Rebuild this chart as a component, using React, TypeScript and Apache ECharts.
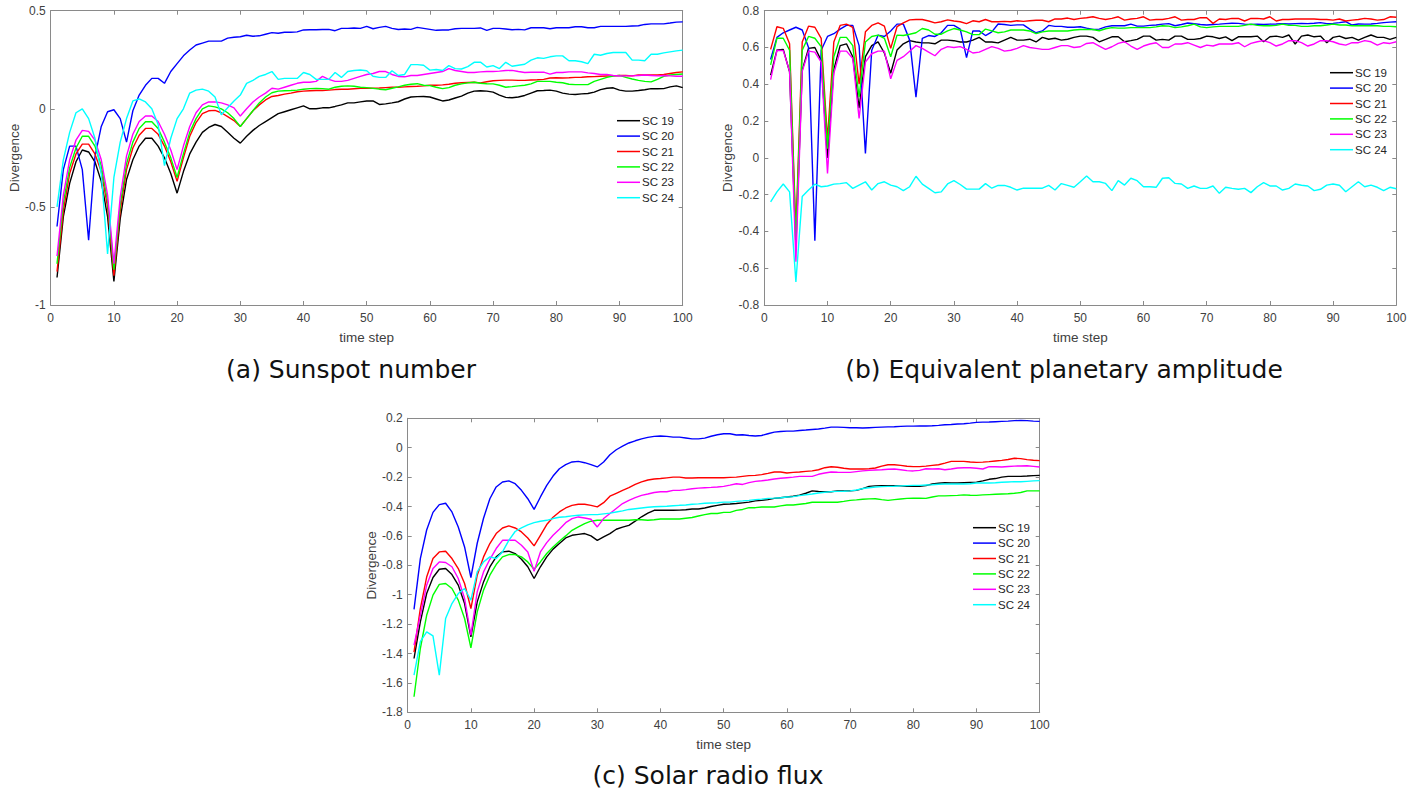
import React, { useEffect, useRef } from "react";
import * as echarts from "echarts";

const NAMES = ["SC 19", "SC 20", "SC 21", "SC 22", "SC 23", "SC 24"];
const COLORS = ["#000000", "#0000ff", "#ff0000", "#00ff00", "#ff00ff", "#00ffff"];
const PANEL_TITLES = ["(a) Sunspot number", "(b) Equivalent planetary amplitude", "(c) Solar radio flux"];

// (a) Sunspot number, time steps 1..100
const SUN_SC19 = [
  -0.86, -0.55, -0.38, -0.27, -0.21, -0.22, -0.27, -0.37, -0.55, -0.88,
  -0.56, -0.36, -0.26, -0.19, -0.15, -0.15, -0.19, -0.25, -0.33, -0.43,
  -0.32, -0.23, -0.17, -0.12, -0.095, -0.08, -0.09, -0.12, -0.15, -0.175,
  -0.14, -0.11, -0.085, -0.065, -0.045, -0.025, -0.015, -0.005, 0.005, 0.015,
  0.0, 0.0, 0.005, 0.005, 0.012, 0.02, 0.03, 0.03, 0.035, 0.04,
  0.04, 0.022, 0.025, 0.03, 0.036, 0.05, 0.06, 0.062, 0.063, 0.06,
  0.05, 0.04, 0.045, 0.055, 0.065, 0.08, 0.09, 0.092, 0.09, 0.085,
  0.07, 0.058, 0.056, 0.06, 0.068, 0.08, 0.092, 0.093, 0.095, 0.09,
  0.08, 0.075, 0.073, 0.076, 0.078, 0.085, 0.098, 0.105, 0.107, 0.095,
  0.09, 0.09, 0.093, 0.097, 0.103, 0.102, 0.103, 0.112, 0.117, 0.108,
];
const SUN_SC20 = [
  -0.6, -0.31, -0.19, -0.19, -0.31, -0.67, -0.245, -0.09, -0.015, -0.005,
  -0.05, -0.17, -0.01, 0.07, 0.12, 0.155, 0.155, 0.13, 0.19, 0.23,
  0.27, 0.3, 0.325, 0.335, 0.345, 0.345, 0.345, 0.36, 0.365, 0.367,
  0.375, 0.37, 0.372, 0.38, 0.388, 0.385, 0.39, 0.39, 0.392, 0.402,
  0.403, 0.403, 0.404, 0.405, 0.398, 0.41, 0.41, 0.412, 0.41, 0.42,
  0.408, 0.415, 0.42, 0.41, 0.404, 0.407, 0.405, 0.415, 0.41, 0.405,
  0.4, 0.402, 0.402, 0.408, 0.41, 0.41, 0.41, 0.412, 0.4, 0.41,
  0.41, 0.407, 0.403, 0.405, 0.402, 0.413, 0.413, 0.413, 0.408, 0.413,
  0.413, 0.413, 0.418, 0.418, 0.413, 0.413, 0.42, 0.42, 0.42, 0.42,
  0.42, 0.422, 0.423, 0.43, 0.433, 0.433, 0.433, 0.437, 0.442, 0.443,
];
const SUN_SC21 = [
  -0.83, -0.52, -0.33, -0.23, -0.18, -0.18, -0.23, -0.32, -0.5, -0.85,
  -0.52, -0.31, -0.2, -0.135, -0.1, -0.1, -0.13, -0.19, -0.27, -0.37,
  -0.25, -0.14, -0.07, -0.025, -0.01, -0.008, -0.02, -0.04, -0.06, -0.09,
  -0.05, -0.01, 0.02, 0.045, 0.063, 0.068, 0.075, 0.08, 0.087, 0.09,
  0.092, 0.093, 0.093, 0.095, 0.098, 0.1, 0.1, 0.102, 0.104, 0.105,
  0.105, 0.106, 0.108, 0.11, 0.11, 0.112, 0.114, 0.115, 0.117, 0.12,
  0.12, 0.122, 0.125, 0.13, 0.133, 0.134, 0.135, 0.132, 0.138, 0.143,
  0.145, 0.146, 0.146, 0.145, 0.145, 0.147, 0.148, 0.15, 0.157, 0.158,
  0.157, 0.158, 0.16, 0.161, 0.163, 0.164, 0.166, 0.167, 0.168, 0.17,
  0.17, 0.168, 0.173, 0.172, 0.172, 0.172, 0.175, 0.18, 0.185, 0.188,
];
const SUN_SC22 = [
  -0.79, -0.48, -0.3, -0.2, -0.14, -0.14, -0.19, -0.29, -0.47, -0.82,
  -0.49, -0.28, -0.17, -0.1, -0.066, -0.066, -0.1, -0.17, -0.25, -0.35,
  -0.23, -0.12, -0.05, 0.0, 0.015, 0.01, 0.0, -0.02, -0.05, -0.09,
  -0.05, -0.01, 0.03, 0.06, 0.082, 0.09, 0.092, 0.093, 0.095, 0.1,
  0.103, 0.104, 0.103, 0.1, 0.11, 0.115, 0.117, 0.115, 0.11, 0.108,
  0.104, 0.1, 0.097, 0.105, 0.112, 0.12, 0.125, 0.128, 0.12, 0.118,
  0.11, 0.103, 0.108, 0.12, 0.127, 0.132, 0.135, 0.13, 0.128, 0.127,
  0.12, 0.11, 0.113, 0.117, 0.12, 0.127, 0.14, 0.14, 0.14, 0.135,
  0.133, 0.125, 0.123, 0.123, 0.123, 0.14, 0.15, 0.16, 0.167, 0.17,
  0.16, 0.152, 0.145, 0.14, 0.137, 0.15, 0.165, 0.172, 0.175, 0.177,
];
const SUN_SC23 = [
  -0.75, -0.44, -0.26, -0.16, -0.11, -0.115, -0.16, -0.26, -0.44, -0.79,
  -0.45, -0.24, -0.13, -0.065, -0.037, -0.037, -0.065, -0.13, -0.21, -0.31,
  -0.19, -0.09, -0.02, 0.02, 0.035, 0.035, 0.03, 0.02, 0.005, -0.037,
  0.0, 0.035, 0.06, 0.08, 0.105, 0.1, 0.11, 0.12, 0.13, 0.135,
  0.135, 0.14, 0.165, 0.15, 0.14, 0.14, 0.145, 0.155, 0.165, 0.175,
  0.18, 0.19, 0.19, 0.175, 0.165, 0.163, 0.17, 0.17, 0.175, 0.18,
  0.185, 0.19, 0.205, 0.195, 0.19, 0.185, 0.185, 0.188, 0.19, 0.19,
  0.192, 0.195, 0.196, 0.19, 0.185, 0.186, 0.186, 0.187, 0.177, 0.185,
  0.185, 0.188, 0.188, 0.188, 0.183, 0.18, 0.175, 0.175, 0.17, 0.167,
  0.168, 0.168, 0.17, 0.172, 0.17, 0.168, 0.17, 0.168, 0.166, 0.166,
];
const SUN_SC24 = [
  -0.5, -0.26, -0.12, -0.02, 0.0, -0.05, -0.15, -0.33, -0.74, -0.35,
  -0.17, -0.05, 0.04, 0.05, 0.035, 0.0, -0.08, -0.29, -0.15, -0.05,
  0.0, 0.08, 0.095, 0.1, 0.09, 0.06, -0.03, 0.005, 0.04, 0.07,
  0.13, 0.145, 0.165, 0.175, 0.19, 0.15, 0.155, 0.155, 0.155, 0.185,
  0.175, 0.15, 0.15, 0.15, 0.185, 0.16, 0.19, 0.195, 0.198, 0.194,
  0.166, 0.16, 0.16, 0.194, 0.17, 0.175, 0.225, 0.225, 0.222, 0.197,
  0.2, 0.195, 0.22, 0.205, 0.203, 0.215, 0.237, 0.238, 0.213, 0.22,
  0.205, 0.237, 0.217, 0.222, 0.227, 0.248, 0.26, 0.257, 0.265, 0.27,
  0.27, 0.245, 0.245, 0.24, 0.23, 0.278, 0.273, 0.282, 0.287, 0.287,
  0.287, 0.248, 0.248, 0.245, 0.278, 0.278, 0.285, 0.29, 0.295, 0.299,
];

// (b) Equivalent planetary amplitude
const AP_SC19 = [
  0.45, 0.586, 0.59, 0.468, -0.48, 0.477, 0.595, 0.6, 0.53, 0.0,
  0.48, 0.61, 0.62, 0.55, 0.27, 0.55, 0.61, 0.63, 0.57, 0.46,
  0.586, 0.62, 0.637, 0.63, 0.625, 0.625, 0.62, 0.64, 0.64, 0.637,
  0.63, 0.63, 0.64, 0.655, 0.63, 0.63, 0.625, 0.64, 0.655, 0.64,
  0.64, 0.645, 0.63, 0.655, 0.645, 0.65, 0.64, 0.645, 0.655, 0.662,
  0.662, 0.655, 0.631, 0.644, 0.658, 0.658, 0.631, 0.637, 0.644, 0.662,
  0.662, 0.64, 0.644, 0.64, 0.662, 0.662, 0.644, 0.644, 0.649, 0.662,
  0.658, 0.649, 0.658, 0.637, 0.658, 0.658, 0.658, 0.662, 0.631, 0.658,
  0.662, 0.655, 0.668, 0.619, 0.662, 0.668, 0.658, 0.662, 0.626, 0.655,
  0.662, 0.649, 0.655, 0.64, 0.655, 0.668, 0.655, 0.655, 0.644, 0.655,
];
const AP_SC20 = [
  0.535, 0.655, 0.68, 0.695, 0.71, 0.695, 0.6, -0.45, 0.585, 0.66,
  0.675, 0.7, 0.72, 0.72, 0.61, 0.024, 0.585, 0.667, 0.66, 0.69,
  0.727, 0.727, 0.64, 0.33, 0.65, 0.665, 0.66, 0.68, 0.72, 0.72,
  0.7, 0.545, 0.69, 0.69, 0.665, 0.685, 0.728, 0.725, 0.72, 0.723,
  0.723, 0.7, 0.68, 0.69, 0.72, 0.715, 0.715, 0.71, 0.71, 0.713,
  0.705, 0.698, 0.7, 0.712, 0.718, 0.718, 0.718, 0.727, 0.716, 0.716,
  0.72, 0.722, 0.727, 0.73, 0.718, 0.725, 0.733, 0.73, 0.725, 0.722,
  0.725, 0.727, 0.73, 0.732, 0.731, 0.727, 0.725, 0.727, 0.725, 0.727,
  0.728, 0.73, 0.728, 0.73, 0.731, 0.73, 0.732, 0.735, 0.73, 0.731,
  0.735, 0.74, 0.722, 0.728, 0.727, 0.728, 0.731, 0.735, 0.738, 0.74,
];
const AP_SC21 = [
  0.59, 0.713, 0.704, 0.62, -0.4, 0.63, 0.716, 0.71, 0.65, 0.1,
  0.63, 0.72, 0.727, 0.71, 0.4, 0.685, 0.72, 0.734, 0.716, 0.595,
  0.713, 0.734, 0.75, 0.752, 0.752, 0.744, 0.734, 0.74, 0.75, 0.744,
  0.74, 0.73, 0.745, 0.74, 0.752, 0.74, 0.74, 0.742, 0.74, 0.745,
  0.742, 0.745, 0.748, 0.748, 0.74, 0.755, 0.755, 0.76, 0.752, 0.758,
  0.762, 0.767, 0.758, 0.752, 0.758, 0.767, 0.749, 0.755, 0.758, 0.767,
  0.749, 0.752, 0.752, 0.758, 0.767, 0.749, 0.752, 0.752, 0.762, 0.762,
  0.731, 0.755, 0.752, 0.758, 0.758, 0.744, 0.758, 0.758, 0.755, 0.767,
  0.744, 0.752, 0.752, 0.755, 0.755, 0.755, 0.755, 0.752, 0.752, 0.749,
  0.755, 0.744, 0.749, 0.752, 0.758, 0.755, 0.749, 0.752, 0.767, 0.764,
];
const AP_SC22 = [
  0.505, 0.65, 0.65, 0.585, -0.44, 0.585, 0.66, 0.65, 0.605, 0.05,
  0.55, 0.655, 0.655, 0.61, 0.33, 0.63, 0.66, 0.667, 0.65, 0.55,
  0.667, 0.665, 0.672, 0.68, 0.703, 0.695, 0.672, 0.672, 0.69, 0.703,
  0.695, 0.685, 0.67, 0.67, 0.7, 0.69, 0.68, 0.685, 0.695, 0.695,
  0.695, 0.69, 0.675, 0.685, 0.69, 0.69, 0.69, 0.69, 0.695, 0.698,
  0.698, 0.698, 0.691, 0.702, 0.708, 0.705, 0.705, 0.708, 0.708, 0.708,
  0.708, 0.712, 0.718, 0.716, 0.708, 0.712, 0.718, 0.727, 0.712, 0.708,
  0.712, 0.715, 0.715, 0.715, 0.715, 0.72, 0.727, 0.72, 0.718, 0.718,
  0.72, 0.727, 0.72, 0.72, 0.715, 0.715, 0.718, 0.718, 0.722, 0.727,
  0.722, 0.722, 0.718, 0.718, 0.718, 0.718, 0.718, 0.715, 0.715, 0.713,
];
const AP_SC23 = [
  0.425, 0.585, 0.583, 0.47, -0.565, 0.47, 0.58, 0.575, 0.52, -0.085,
  0.46, 0.58, 0.58, 0.54, 0.215, 0.52, 0.566, 0.58, 0.58, 0.43,
  0.53, 0.55, 0.58, 0.61, 0.595, 0.575, 0.555, 0.59, 0.605, 0.6,
  0.605, 0.59, 0.57, 0.575, 0.59, 0.605, 0.595, 0.58, 0.585, 0.595,
  0.61, 0.6, 0.595, 0.59, 0.59, 0.6, 0.61, 0.61, 0.6, 0.604,
  0.622, 0.626, 0.608, 0.59, 0.604, 0.622, 0.631, 0.608, 0.59, 0.608,
  0.619, 0.626, 0.6, 0.6, 0.619, 0.619, 0.626, 0.613, 0.6, 0.613,
  0.608, 0.619, 0.619, 0.619, 0.626, 0.604, 0.622, 0.631, 0.637, 0.626,
  0.608, 0.619, 0.637, 0.637, 0.626, 0.608, 0.619, 0.637, 0.637, 0.631,
  0.619, 0.613, 0.626, 0.626, 0.637, 0.631, 0.613, 0.626, 0.622, 0.631,
];
const AP_SC24 = [
  -0.24, -0.185, -0.142, -0.185, -0.675, -0.21, -0.175, -0.143, -0.157, -0.153,
  -0.143, -0.14, -0.135, -0.166, -0.148, -0.13, -0.175, -0.14, -0.13, -0.148,
  -0.157, -0.178, -0.157, -0.1, -0.143, -0.166, -0.19, -0.185, -0.142, -0.124,
  -0.145, -0.17, -0.17, -0.17, -0.14, -0.165, -0.15, -0.15, -0.16, -0.175,
  -0.165, -0.165, -0.165, -0.165, -0.15, -0.175, -0.14, -0.15, -0.16, -0.13,
  -0.099, -0.13, -0.13, -0.139, -0.178, -0.124, -0.148, -0.111, -0.124, -0.157,
  -0.157, -0.16, -0.111, -0.108, -0.139, -0.142, -0.166, -0.153, -0.166, -0.166,
  -0.153, -0.193, -0.16, -0.166, -0.171, -0.166, -0.189, -0.157, -0.135, -0.153,
  -0.153, -0.175, -0.166, -0.142, -0.149, -0.153, -0.178, -0.171, -0.148, -0.142,
  -0.149, -0.184, -0.157, -0.13, -0.157, -0.148, -0.16, -0.178, -0.16, -0.168,
];

// (c) Solar radio flux
const F107_SC19 = [
  -1.434, -1.185, -0.992, -0.883, -0.827, -0.822, -0.863, -0.935, -1.06, -1.287,
  -1.049, -0.913, -0.811, -0.743, -0.709, -0.704, -0.72, -0.759, -0.81, -0.89,
  -0.81, -0.743, -0.69, -0.652, -0.614, -0.596, -0.59, -0.584, -0.6, -0.63,
  -0.607, -0.584, -0.555, -0.54, -0.528, -0.5, -0.47, -0.445, -0.426, -0.426,
  -0.426, -0.426, -0.425, -0.422, -0.417, -0.417, -0.41, -0.4, -0.392, -0.385,
  -0.383, -0.38, -0.375, -0.37, -0.362, -0.358, -0.353, -0.345, -0.34, -0.335,
  -0.33, -0.323, -0.31, -0.294, -0.298, -0.3, -0.3, -0.294, -0.294, -0.294,
  -0.29, -0.278, -0.263, -0.26, -0.258, -0.258, -0.258, -0.26, -0.263, -0.263,
  -0.263, -0.258, -0.247, -0.242, -0.238, -0.24, -0.24, -0.238, -0.236, -0.234,
  -0.226, -0.215, -0.21, -0.2, -0.195, -0.195, -0.195, -0.193, -0.19, -0.188,
];
const F107_SC20 = [
  -1.1, -0.755, -0.56, -0.44, -0.387, -0.378, -0.437, -0.54, -0.675, -0.883,
  -0.65, -0.48, -0.347, -0.267, -0.233, -0.226, -0.245, -0.29, -0.347, -0.42,
  -0.335, -0.256, -0.193, -0.143, -0.115, -0.097, -0.093, -0.102, -0.115, -0.131,
  -0.097, -0.048, -0.014, 0.01, 0.032, 0.047, 0.06, 0.07, 0.077, 0.08,
  0.077, 0.072, 0.072, 0.066, 0.06, 0.06, 0.065, 0.078, 0.088, 0.095,
  0.095, 0.086, 0.088, 0.083, 0.08, 0.083, 0.095, 0.106, 0.11, 0.113,
  0.113, 0.117, 0.12, 0.124, 0.127, 0.133, 0.14, 0.14, 0.138, 0.136,
  0.136, 0.134, 0.136, 0.138, 0.14, 0.142, 0.143, 0.145, 0.147, 0.147,
  0.148, 0.148, 0.149, 0.152, 0.156, 0.158, 0.161, 0.163, 0.167, 0.172,
  0.174, 0.175, 0.177, 0.179, 0.181, 0.184, 0.186, 0.184, 0.181, 0.179,
];
const F107_SC21 = [
  -1.39, -1.094, -0.88, -0.754, -0.709, -0.704, -0.754, -0.822, -0.924, -1.094,
  -0.867, -0.743, -0.652, -0.584, -0.546, -0.532, -0.546, -0.573, -0.614, -0.668,
  -0.596, -0.523, -0.473, -0.437, -0.41, -0.392, -0.385, -0.385, -0.392, -0.403,
  -0.374, -0.33, -0.31, -0.29, -0.272, -0.25, -0.233, -0.22, -0.213, -0.21,
  -0.205, -0.2, -0.2, -0.206, -0.206, -0.204, -0.204, -0.204, -0.204, -0.204,
  -0.202, -0.2, -0.195, -0.19, -0.188, -0.183, -0.175, -0.165, -0.165, -0.172,
  -0.168, -0.165, -0.161, -0.158, -0.15, -0.136, -0.13, -0.133, -0.14, -0.145,
  -0.145, -0.145, -0.143, -0.138, -0.125, -0.116, -0.116, -0.12, -0.126, -0.129,
  -0.129, -0.125, -0.12, -0.116, -0.105, -0.093, -0.093, -0.093, -0.097, -0.1,
  -0.098, -0.095, -0.09, -0.086, -0.08, -0.072, -0.074, -0.081, -0.085, -0.088,
];
const F107_SC22 = [
  -1.694, -1.366, -1.14, -1.003, -0.93, -0.924, -0.958, -1.037, -1.162, -1.361,
  -1.117, -0.969, -0.867, -0.795, -0.743, -0.727, -0.727, -0.743, -0.777, -0.827,
  -0.777, -0.72, -0.675, -0.636, -0.6, -0.562, -0.539, -0.516, -0.5, -0.494,
  -0.494, -0.494, -0.494, -0.494, -0.494, -0.49, -0.49, -0.494, -0.49, -0.485,
  -0.485, -0.485, -0.485, -0.48, -0.475, -0.465, -0.455, -0.448, -0.448, -0.44,
  -0.44, -0.426, -0.42, -0.408, -0.408, -0.403, -0.403, -0.403, -0.396, -0.39,
  -0.39, -0.385, -0.38, -0.371, -0.371, -0.371, -0.371, -0.371, -0.365, -0.358,
  -0.355, -0.351, -0.348, -0.347, -0.353, -0.358, -0.353, -0.349, -0.345, -0.344,
  -0.344, -0.345, -0.335, -0.328, -0.328, -0.326, -0.324, -0.321, -0.323, -0.324,
  -0.321, -0.319, -0.317, -0.315, -0.313, -0.31, -0.305, -0.294, -0.294, -0.294,
];
const F107_SC23 = [
  -1.343, -1.14, -0.935, -0.822, -0.777, -0.781, -0.81, -0.89, -1.026, -1.275,
  -0.98, -0.845, -0.759, -0.686, -0.63, -0.63, -0.63, -0.664, -0.709, -0.84,
  -0.709, -0.646, -0.596, -0.555, -0.51, -0.482, -0.471, -0.478, -0.487, -0.539,
  -0.482, -0.448, -0.414, -0.38, -0.358, -0.34, -0.324, -0.315, -0.305, -0.3,
  -0.3, -0.29, -0.29, -0.285, -0.279, -0.275, -0.272, -0.27, -0.267, -0.263,
  -0.255, -0.245, -0.25, -0.238, -0.229, -0.225, -0.22, -0.213, -0.208, -0.204,
  -0.2, -0.195, -0.195, -0.195, -0.181, -0.172, -0.165, -0.167, -0.168, -0.168,
  -0.163, -0.158, -0.154, -0.152, -0.15, -0.147, -0.145, -0.15, -0.156, -0.158,
  -0.154, -0.143, -0.145, -0.143, -0.15, -0.145, -0.138, -0.136, -0.136, -0.14,
  -0.145, -0.129, -0.13, -0.131, -0.128, -0.125, -0.124, -0.123, -0.127, -0.131,
];
const F107_SC24 = [
  -1.547, -1.32, -1.253, -1.28, -1.547, -1.162, -1.06, -0.992, -0.958, -1.037,
  -0.845, -0.777, -0.743, -0.754, -0.709, -0.63, -0.57, -0.545, -0.525, -0.51,
  -0.5, -0.494, -0.482, -0.473, -0.47, -0.464, -0.46, -0.457, -0.455, -0.455,
  -0.45, -0.445, -0.437, -0.43, -0.42, -0.415, -0.41, -0.405, -0.402, -0.4,
  -0.398, -0.395, -0.392, -0.39, -0.385, -0.382, -0.378, -0.376, -0.374, -0.37,
  -0.37, -0.365, -0.362, -0.358, -0.353, -0.35, -0.345, -0.343, -0.34, -0.335,
  -0.333, -0.326, -0.32, -0.315, -0.308, -0.303, -0.299, -0.297, -0.296, -0.294,
  -0.288, -0.278, -0.272, -0.267, -0.265, -0.263, -0.262, -0.26, -0.258, -0.256,
  -0.256, -0.254, -0.252, -0.249, -0.247, -0.247, -0.247, -0.247, -0.245, -0.24,
  -0.24, -0.24, -0.238, -0.235, -0.233, -0.231, -0.232, -0.229, -0.226, -0.224,
];

const PANEL_DATA = [
  [SUN_SC19, SUN_SC20, SUN_SC21, SUN_SC22, SUN_SC23, SUN_SC24],
  [AP_SC19, AP_SC20, AP_SC21, AP_SC22, AP_SC23, AP_SC24],
  [F107_SC19, F107_SC20, F107_SC21, F107_SC22, F107_SC23, F107_SC24],
];
const Y_RANGES = [
  { min: -1, max: 0.5, interval: 0.5 },
  { min: -0.8, max: 0.8, interval: 0.2 },
  { min: -1.8, max: 0.2, interval: 0.2 },
];
const X_RANGE = { min: 0, max: 100, interval: 10 };

const GRIDS = [
  { left: 50.7, top: 10.7, width: 632, height: 294.3 },
  { left: 764.3, top: 10.7, width: 632, height: 294.3 },
  { left: 407.7, top: 418.3, width: 632, height: 294 },
];
const LEGEND_POS = [
  { left: 617, top: 113 },
  { left: 1330, top: 65 },
  { left: 973, top: 520 },
];
const TITLE_POS = [
  { x: 351, y: 369 },
  { x: 1064, y: 369 },
  { x: 708, y: 775 },
];

const AXIS_COLOR = "#8a8a8a";
const LABEL_COLOR = "#404040";
const FONT = "'Liberation Sans', Arial, sans-serif";

export default function App() {
  const ref = useRef<HTMLDivElement>(null);
  useEffect(() => {
    if (!ref.current) return;
    const chart = echarts.init(ref.current, undefined, { renderer: "svg" });

    const lineAxis = {
      axisLine: { show: true, onZero: false, lineStyle: { color: AXIS_COLOR, width: 1 } },
      axisTick: { show: true, inside: true, length: 4, lineStyle: { color: AXIS_COLOR, width: 1 } },
      splitLine: { show: false },
    };

    const xAxis: any[] = [];
    const yAxis: any[] = [];
    const series: any[] = [];
    GRIDS.forEach((_, g) => {
      xAxis.push({
        type: "value", gridIndex: g, position: "bottom", ...X_RANGE, ...lineAxis,
        name: "time step", nameLocation: "middle", nameGap: 25,
        nameTextStyle: { color: LABEL_COLOR, fontSize: 13.5, fontFamily: FONT },
        axisLabel: { color: LABEL_COLOR, fontSize: 12, fontFamily: FONT, margin: 7 },
      });
      xAxis.push({
        type: "value", gridIndex: g, position: "top", ...X_RANGE, ...lineAxis,
        axisLabel: { show: false },
      });
      yAxis.push({
        type: "value", gridIndex: g, position: "left", ...Y_RANGES[g], ...lineAxis,
        name: "Divergence", nameLocation: "middle", nameGap: 29, nameRotate: 90,
        nameTextStyle: { color: LABEL_COLOR, fontSize: 13.5, fontFamily: FONT },
        axisLabel: { color: LABEL_COLOR, fontSize: 12, fontFamily: FONT, margin: 5 },
      });
      yAxis.push({
        type: "value", gridIndex: g, position: "right", ...Y_RANGES[g], ...lineAxis,
        axisLabel: { show: false },
      });
      PANEL_DATA[g].forEach((vals, s) => {
        series.push({
          type: "line",
          name: NAMES[s],
          xAxisIndex: g * 2,
          yAxisIndex: g * 2,
          data: vals.map((v, i) => [i + 1, v]),
          symbol: "none",
          showSymbol: false,
          silent: true,
          lineStyle: { color: COLORS[s], width: 1.4 },
          itemStyle: { color: COLORS[s] },
          z: 2 + s,
        });
      });
    });

    chart.setOption({
      animation: false,
      backgroundColor: "#ffffff",
      grid: GRIDS.map((g) => ({ ...g, containLabel: false })),
      xAxis,
      yAxis,
      series,
      legend: LEGEND_POS.map((p) => ({
        data: NAMES,
        orient: "vertical",
        left: p.left,
        top: p.top,
        padding: 0,
        itemGap: 0,
        itemWidth: 23,
        itemHeight: 1.5,
        icon: "rect",
        selectedMode: false,
        textStyle: { fontSize: 11.5, color: "#262626", fontFamily: FONT, lineHeight: 15.4, padding: [0, 0, 0, -3] },
      })),
      graphic: PANEL_TITLES.map((t, i) => ({
        type: "text",
        x: TITLE_POS[i].x,
        y: TITLE_POS[i].y,
        style: {
          text: t,
          fill: "#111111",
          font: "25px 'DejaVu Sans'",
          fontSize: 25,
          fontFamily: "DejaVu Sans",
          align: "center",
          textAlign: "center",
          verticalAlign: "middle",
          textVerticalAlign: "middle",
        },
      })),
    });
    return () => chart.dispose();
  }, []);
  return (
    <div
      ref={ref}
      style={{ position: "fixed", left: 0, top: 0, width: 1421, height: 793, background: "#fff" }}
    />
  );
}
